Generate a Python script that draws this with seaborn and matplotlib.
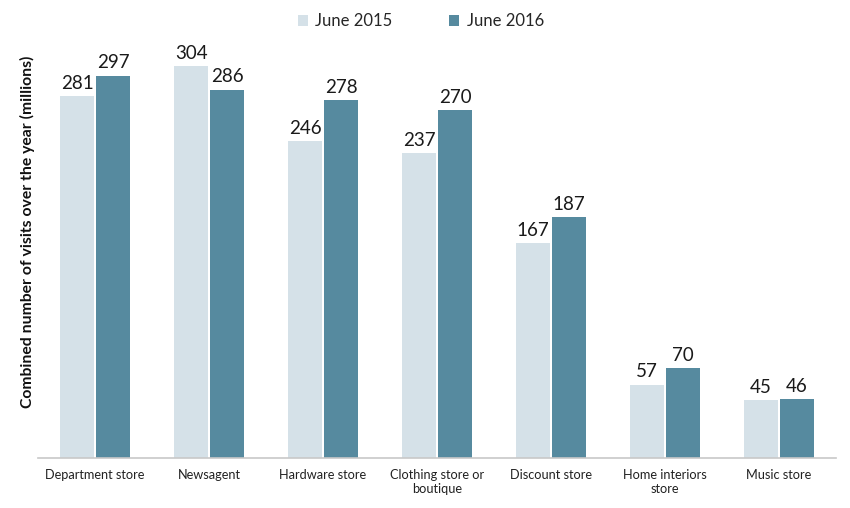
import matplotlib
matplotlib.use("Agg")
import matplotlib.pyplot as plt
import seaborn as sns
import pandas as pd
from matplotlib.patches import Patch

categories = ["Department store", "Newsagent", "Hardware store",
              "Clothing store or\nboutique", "Discount store",
              "Home interiors\nstore", "Music store"]
series_names = ["June 2015", "June 2016"]
values_2015 = [281, 304, 246, 237, 167, 57, 45]
values_2016 = [297, 286, 278, 270, 187, 70, 46]

colors = ["#d5e1e8", "#568a9f"]

df = pd.DataFrame({
    "category": categories * 2,
    "period": [series_names[0]] * len(categories) + [series_names[1]] * len(categories),
    "value": values_2015 + values_2016,
})

sns.set_theme(style="white")
plt.rcParams['font.family'] = ['Lato', 'DejaVu Sans']

fig = plt.figure(figsize=(8.5, 5.08), dpi=100)
ax = fig.add_axes([38/850, 50/508, (836-38)/850, 425/508])

sns.barplot(data=df, x="category", y="value", hue="period",
            palette=colors, width=0.63, gap=0.06, ax=ax,
            legend=False, saturation=1, edgecolor="none")

for container in ax.containers:
    ax.bar_label(container, fmt="%d", padding=3, fontsize=13.5, color="#1a1a1a")

ax.set_xlim(-0.5, 6.5)
ax.set_ylim(0, 330)
ax.set_yticks([])
ax.set_xlabel("")
ax.set_ylabel("Combined number of visits over the year (millions)",
              fontsize=11.3, fontweight="bold", color="#111111")
ax.yaxis.set_label_coords(-0.004, 0.532)
ax.tick_params(axis="x", length=0, pad=8, labelsize=9.2, labelcolor="#222222")

for s in ["top", "right", "left"]:
    ax.spines[s].set_visible(False)
ax.spines["bottom"].set_color("#c8c8c8")
ax.spines["bottom"].set_linewidth(1.2)

handles = [Patch(facecolor=c, edgecolor="none", label=n) for c, n in zip(colors, series_names)]
fig.legend(handles=handles, loc="center", bbox_to_anchor=(0.495, 0.958), ncol=2,
           frameon=False, fontsize=12, handlelength=0.6, handleheight=0.6,
           handletextpad=0.45, columnspacing=3.4)

fig.savefig("out.png", dpi=100)
